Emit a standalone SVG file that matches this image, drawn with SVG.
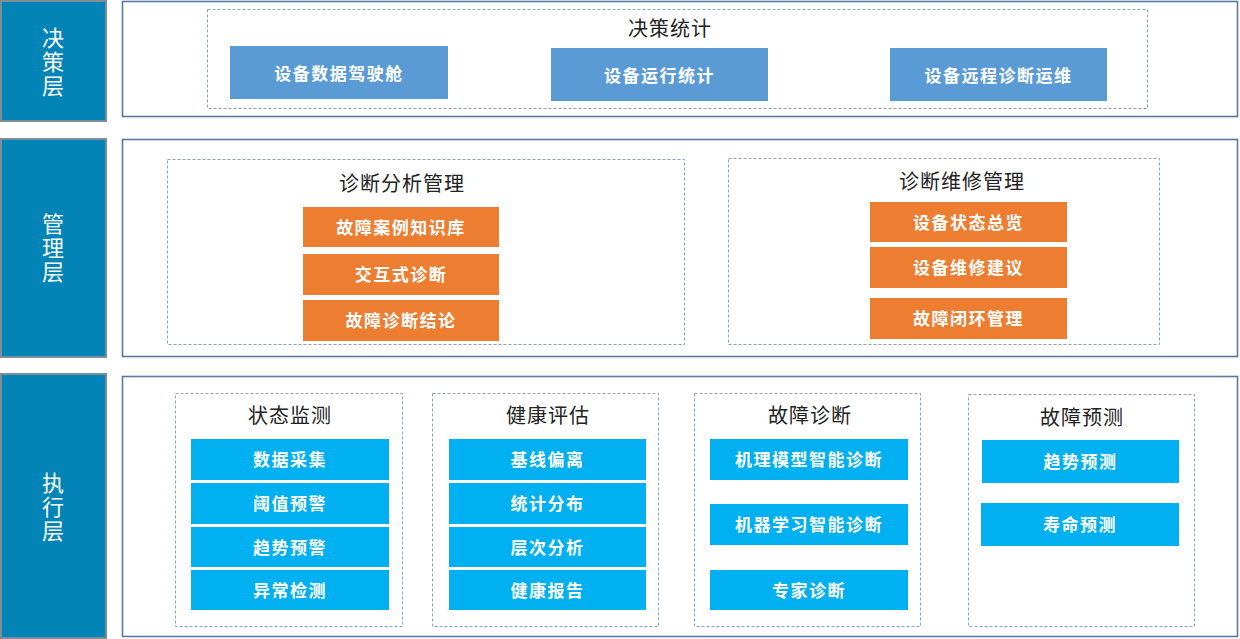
<svg xmlns="http://www.w3.org/2000/svg" width="1240" height="639" viewBox="0 0 1240 639">
<style>
.bg{fill:#ffffff}
.layer{fill:#0284B6;stroke:#7E8E96;stroke-width:2}
.layertxt{font-family:"Noto Sans CJK SC","Noto Sans CJK TC",sans-serif;font-size:22px;fill:#ffffff;text-anchor:middle;writing-mode:vertical-rl;letter-spacing:2px}
.outer{fill:#ffffff;stroke:#5B7BA1;stroke-width:1.6}
.dash{fill:none;stroke:#8CA2BC;stroke-width:1;stroke-dasharray:3,2}
.title{font-family:"Noto Sans CJK SC",sans-serif;font-size:20px;fill:#222222;text-anchor:middle;dominant-baseline:central;letter-spacing:1px}
.bt{fill:#5B9BD5}
.or{fill:#ED7D31}
.cy{fill:#00B0F0}
.bx{font-family:"Noto Sans CJK SC",sans-serif;font-size:17px;font-weight:bold;fill:#ffffff;text-anchor:middle;dominant-baseline:central;letter-spacing:1.5px}
</style>
<rect class="bg" x="0" y="0" width="1240" height="639"/>

<g id="layer-decision">
<rect class="layer" x="1" y="1" width="105" height="120"/>
<text class="layertxt" x="53" y="63">决策层</text>
</g>
<g id="layer-management">
<rect class="layer" x="1" y="139" width="105" height="218"/>
<text class="layertxt" x="53" y="249">管理层</text>
</g>
<g id="layer-execution">
<rect class="layer" x="1" y="374" width="105" height="264"/>
<text class="layertxt" x="53" y="508">执行层</text>
</g>

<g id="panel-decision">
<rect class="outer" x="122.5" y="1.5" width="1115" height="115"/>
<rect class="dash" x="207.5" y="9.5" width="940" height="99"/>
<text class="title" x="670" y="27">决策统计</text>
</g>
<g id="n-cockpit"><rect class="bt" x="230" y="46" width="218" height="53"/><text class="bx" x="339" y="72">设备数据驾驶舱</text></g>
<g id="n-runstat"><rect class="bt" x="551" y="48" width="217" height="53"/><text class="bx" x="659.5" y="74">设备运行统计</text></g>
<g id="n-remote"><rect class="bt" x="890" y="48" width="217" height="53"/><text class="bx" x="998.5" y="74">设备远程诊断运维</text></g>

<g id="panel-management">
<rect class="outer" x="122.5" y="139.5" width="1115" height="217"/>
<rect class="dash" x="167.5" y="159.5" width="517" height="185"/>
<text class="title" x="402" y="182">诊断分析管理</text>
<rect class="dash" x="728.5" y="158.5" width="431" height="186"/>
<text class="title" x="962" y="180">诊断维修管理</text>
</g>
<g id="n-kb"><rect class="or" x="303" y="207" width="196" height="40"/><text class="bx" x="401" y="226">故障案例知识库</text></g>
<g id="n-interactive"><rect class="or" x="303" y="254" width="196" height="41"/><text class="bx" x="401" y="273.5">交互式诊断</text></g>
<g id="n-conclusion"><rect class="or" x="303" y="300" width="196" height="41"/><text class="bx" x="401" y="319.5">故障诊断结论</text></g>
<g id="n-overview"><rect class="or" x="870" y="202" width="197" height="40"/><text class="bx" x="968.5" y="221">设备状态总览</text></g>
<g id="n-advice"><rect class="or" x="870" y="247" width="197" height="41"/><text class="bx" x="968.5" y="266.5">设备维修建议</text></g>
<g id="n-closedloop"><rect class="or" x="870" y="298" width="197" height="41"/><text class="bx" x="968.5" y="317.5">故障闭环管理</text></g>

<g id="panel-execution">
<rect class="outer" x="122.5" y="376.5" width="1115" height="260"/>
<rect class="dash" x="175.5" y="393.5" width="227" height="233"/>
<text class="title" x="290" y="414">状态监测</text>
<rect class="dash" x="432.5" y="393.5" width="226" height="233"/>
<text class="title" x="548" y="414">健康评估</text>
<rect class="dash" x="694.5" y="393.5" width="226" height="233"/>
<text class="title" x="810" y="414">故障诊断</text>
<rect class="dash" x="968.5" y="394.5" width="226" height="232"/>
<text class="title" x="1082" y="416">故障预测</text>
</g>
<g id="n-collect"><rect class="cy" x="191" y="439" width="198" height="41"/><text class="bx" x="290" y="458.5">数据采集</text></g>
<g id="n-threshold"><rect class="cy" x="191" y="483" width="198" height="41"/><text class="bx" x="290" y="502.5">阈值预警</text></g>
<g id="n-trendwarn"><rect class="cy" x="191" y="527" width="198" height="40"/><text class="bx" x="290" y="546">趋势预警</text></g>
<g id="n-anomaly"><rect class="cy" x="191" y="570" width="198" height="40"/><text class="bx" x="290" y="589">异常检测</text></g>

<g id="n-baseline"><rect class="cy" x="449" y="439" width="197" height="41"/><text class="bx" x="547.5" y="458.5">基线偏离</text></g>
<g id="n-stats"><rect class="cy" x="449" y="483" width="197" height="41"/><text class="bx" x="547.5" y="502.5">统计分布</text></g>
<g id="n-hier"><rect class="cy" x="449" y="527" width="197" height="40"/><text class="bx" x="547.5" y="546">层次分析</text></g>
<g id="n-report"><rect class="cy" x="449" y="570" width="197" height="40"/><text class="bx" x="547.5" y="589">健康报告</text></g>

<g id="n-mech"><rect class="cy" x="710" y="439" width="198" height="41"/><text class="bx" x="809" y="458.5">机理模型智能诊断</text></g>
<g id="n-ml"><rect class="cy" x="710" y="504" width="198" height="41"/><text class="bx" x="809" y="523.5">机器学习智能诊断</text></g>
<g id="n-expert"><rect class="cy" x="710" y="570" width="198" height="40"/><text class="bx" x="809" y="589">专家诊断</text></g>

<g id="n-trendpred"><rect class="cy" x="982" y="440" width="197" height="43"/><text class="bx" x="1080.5" y="460.5">趋势预测</text></g>
<g id="n-life"><rect class="cy" x="981" y="503" width="198" height="43"/><text class="bx" x="1080" y="523.5">寿命预测</text></g>

<g id="connectors"></g>
</svg>
